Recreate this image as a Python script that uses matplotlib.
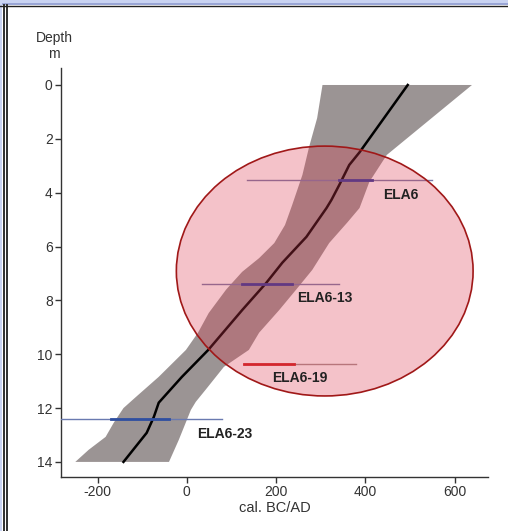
"""
Age-depth model for core ELA6 with calibrated dates and highlighted zone.
"""
import numpy as np
import matplotlib.pyplot as plt
import matplotlib.patches as mpatches
from matplotlib.lines import Line2D

plt.rcParams["font.family"] = ["Liberation Sans", "DejaVu Sans"]
plt.rcParams["axes.unicode_minus"] = False

# age-depth envelope (cal. BC/AD)
LEFT_DEPTH = [0, 1.23, 2.3, 3.34, 4.46, 5.2, 5.87, 6.43, 6.94, 7.6, 8.47, 9.2, 9.84, 10.84, 11.6, 12.0, 12.55, 13.07, 13.55, 14.0]
LEFT_AGE = [304, 292, 274, 259, 236, 220, 196, 162, 124, 88, 49, 25, -2, -63, -115, -142, -164, -182, -220, -250]
RIGHT_DEPTH = [0, 2.6, 3.6, 4.57, 5.1, 5.87, 6.87, 7.6, 8.36, 9.2, 9.84, 10.47, 11.3, 11.77, 12.07, 12.44, 13.18, 14.0]
RIGHT_AGE = [639, 448, 409, 387, 360, 319, 281, 245, 207, 162, 139, 83, 43, 20, 9, 0, -18, -40]
MID_DEPTH = [0, 2.5, 2.97, 3.7, 4.27, 4.57, 5.64, 6.6, 7.35, 8.36, 9.84, 10.84, 11.8, 12.33, 12.92, 14.0]
MID_AGE = [495, 387, 364, 342, 324, 313, 268, 214, 178, 124, 48, -11, -63, -74, -90, -142]

# dated samples: depth, full range, peak range, label position
DATE_NAMES = ["ELA6", "ELA6-13", "ELA6-19", "ELA6-23"]
DATE_DEPTH = [3.53, 7.39, 10.36, 12.4]
DATE_MIN = [135, 34, 128, -281]
DATE_MAX = [549, 342, 380, 79]
PEAK_MIN = [342, 124, 128, -171]
PEAK_MAX = [414, 236, 241, -40]
LABEL_X = [440, 248, 192, 22]
LABEL_DEPTH = [4.09, 7.9, 10.9, 12.96]
PEAK_COLORS = ["#2f3a9a", "#2f3a9a", "#d02020", "#2f4fa0"]
LINE_COLORS = ["#7a7aa8", "#7a7aa8", "#a89090", "#6a7ab0"]

# highlighted zone
ZONE_CENTER = (309, 6.91)
ZONE_W, ZONE_H = 665, 9.28

XTICKS = [-200, 0, 200, 400, 600]
YTICKS = [0, 2, 4, 6, 8, 10, 12, 14]


def plot():
    fig = plt.figure(figsize=(5.08, 5.31), dpi=100)
    ax = fig.add_axes([0.1201, 0.1017, 0.8406, 0.7702])

    ages = LEFT_AGE + RIGHT_AGE[::-1]
    depths = LEFT_DEPTH + RIGHT_DEPTH[::-1]
    ax.fill(ages, depths, color="#9b9494", lw=0, zorder=1)
    ax.plot(MID_AGE, MID_DEPTH, color="black", lw=1.8, zorder=2)

    for i, name in enumerate(DATE_NAMES):
        d = DATE_DEPTH[i]
        ax.plot([DATE_MIN[i], DATE_MAX[i]], [d, d], color=LINE_COLORS[i], lw=1, zorder=3)
        ax.plot([PEAK_MIN[i], PEAK_MAX[i]], [d, d], color=PEAK_COLORS[i], lw=2, zorder=3)
        ax.text(LABEL_X[i], LABEL_DEPTH[i], name, fontsize=10, fontweight="bold",
                color="#222222", ha="left", va="center", zorder=5)

    zone = mpatches.Ellipse(ZONE_CENTER, ZONE_W, ZONE_H, facecolor=(0.86, 0.22, 0.30, 0.3),
                            edgecolor="#a01818", lw=1.2, zorder=4)
    ax.add_patch(zone)

    ax.set_xlim(-282, 675)
    ax.set_ylim(14.56, -0.63)
    ax.set_xticks(XTICKS)
    ax.set_yticks(YTICKS)
    ax.tick_params(labelsize=10, length=4, width=1, colors="#333333", pad=2)
    for side in ["top", "right"]:
        ax.spines[side].set_visible(False)
    for side in ["left", "bottom"]:
        ax.spines[side].set_color("#333333")
        ax.spines[side].set_linewidth(1)
    ax.set_xlabel("cal. BC/AD", fontsize=10.5, color="#333333", labelpad=1)
    fig.text(54 / 508, 1 - 46 / 531, "Depth\nm", ha="center", va="center",
             fontsize=10, color="#333333", linespacing=1.15)

    # screenshot window frame
    fig.add_artist(mpatches.Rectangle((0, 1 - 3 / 531), 1, 3 / 531, transform=fig.transFigure,
                                      color="#c9d3f2", lw=0))
    fig.add_artist(mpatches.Rectangle((0, 1 - 5 / 531), 1, 2 / 531, transform=fig.transFigure,
                                      color="#9aa6d6", lw=0))
    fig.add_artist(Line2D([0, 1], [1 - 5.5 / 531] * 2, transform=fig.transFigure,
                          color="#202020", lw=1))
    fig.add_artist(mpatches.Rectangle((0, 0), 2 / 508, 1, transform=fig.transFigure,
                                      color="#c9d3f2", lw=0))
    for xp in [3.5, 6.5]:
        fig.add_artist(Line2D([xp / 508] * 2, [0, 1 - 5 / 531], transform=fig.transFigure,
                              color="#202020", lw=1.3))

    fig.savefig("out.png", dpi=100)
    plt.close()


if __name__ == "__main__":
    plot()
